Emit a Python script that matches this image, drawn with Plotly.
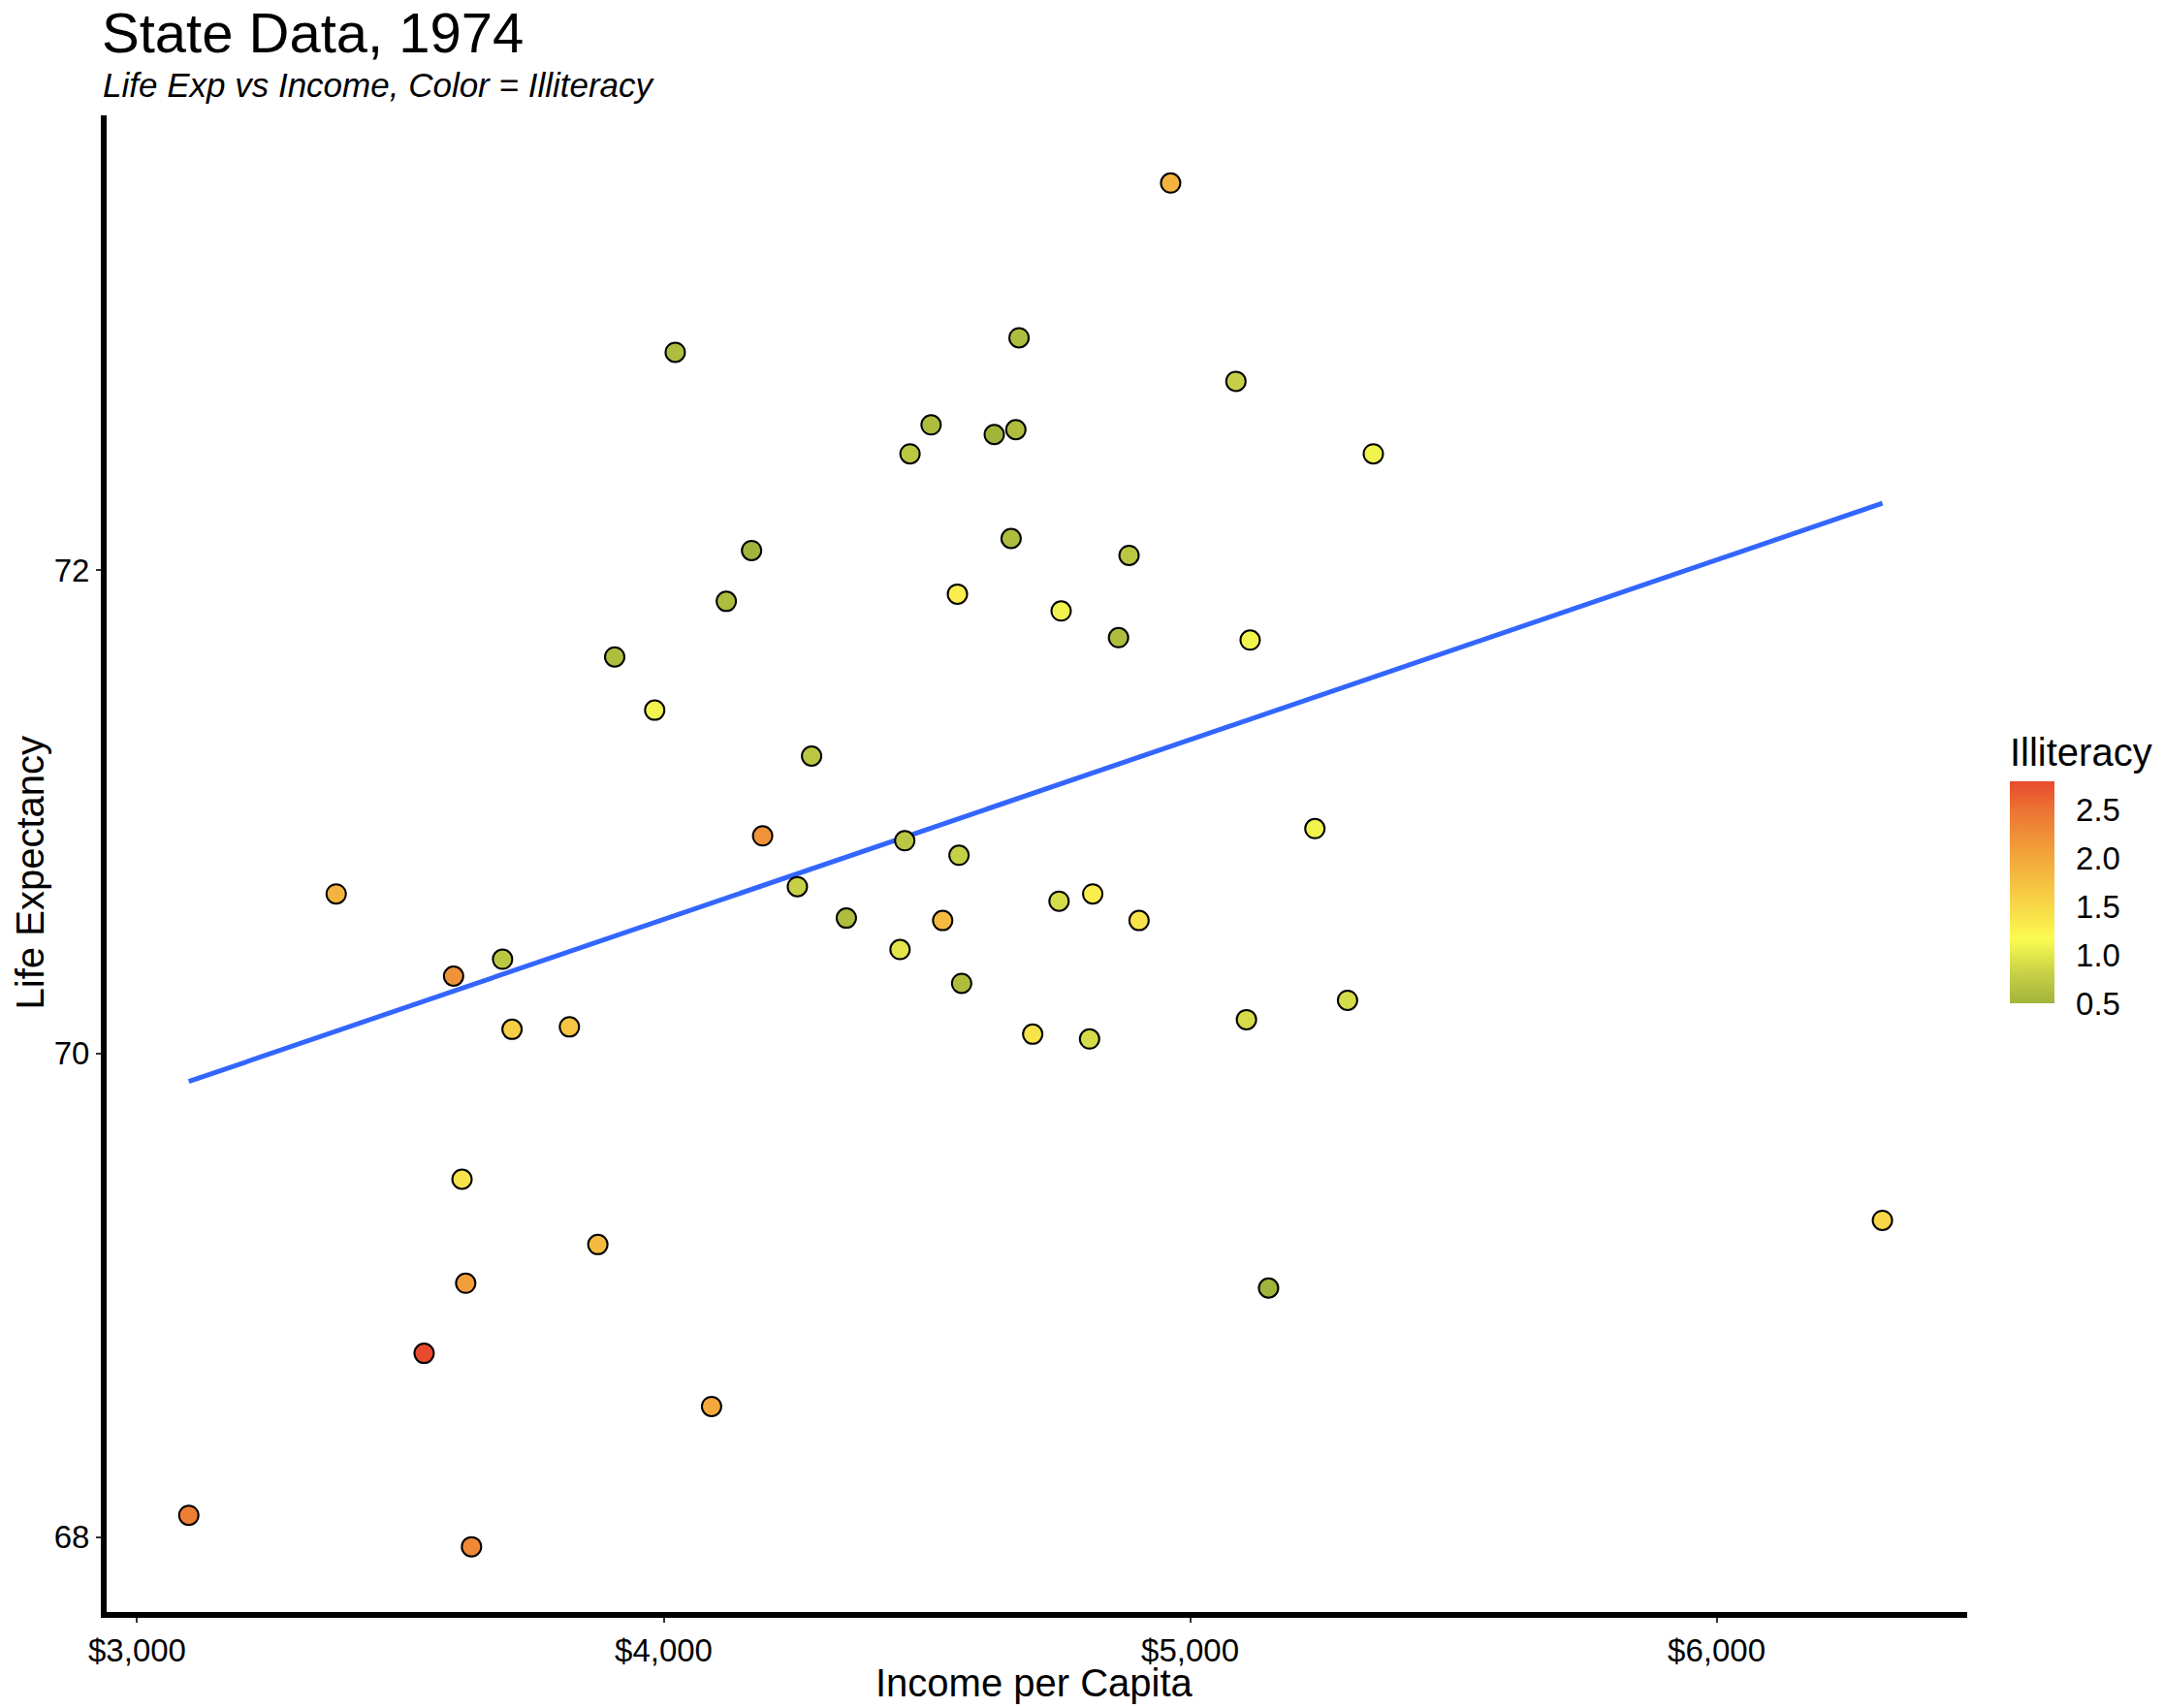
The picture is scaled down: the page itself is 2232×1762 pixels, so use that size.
import numpy as np
import plotly.graph_objects as go

states = ["Alabama","Alaska","Arizona","Arkansas","California","Colorado","Connecticut","Delaware",
          "Florida","Georgia","Hawaii","Idaho","Illinois","Indiana","Iowa","Kansas","Kentucky",
          "Louisiana","Maine","Maryland","Massachusetts","Michigan","Minnesota","Mississippi",
          "Missouri","Montana","Nebraska","Nevada","New Hampshire","New Jersey","New Mexico",
          "New York","North Carolina","North Dakota","Ohio","Oklahoma","Oregon","Pennsylvania",
          "Rhode Island","South Carolina","South Dakota","Tennessee","Texas","Utah","Vermont",
          "Virginia","Washington","West Virginia","Wisconsin","Wyoming"]
income = [3624, 6315, 4530, 3378, 5114, 4884, 5348, 4809, 4815, 4091, 4963, 4119, 5107, 4458,
          4628, 4669, 3712, 3545, 3694, 5299, 4755, 4751, 4675, 3098, 4254, 4347, 4508, 5149,
          4281, 5237, 3601, 4903, 3875, 5087, 4561, 3983, 4660, 4449, 4558, 3635, 4167, 3821,
          4188, 4022, 3907, 4701, 4864, 3617, 4468, 4566]
illiteracy = [2.1, 1.5, 1.8, 1.9, 1.1, 0.7, 1.1, 0.9, 1.3, 2.0, 1.9, 0.6, 0.9, 0.7, 0.5, 0.6,
              1.6, 2.8, 0.7, 0.9, 1.1, 0.9, 0.6, 2.4, 0.8, 0.6, 0.6, 0.5, 0.7, 1.1, 2.2, 1.4,
              1.8, 0.8, 0.8, 1.1, 0.6, 1.0, 1.3, 2.3, 0.5, 1.7, 2.2, 0.6, 0.6, 1.4, 0.6, 1.4,
              0.7, 0.6]
life_exp = [69.05, 69.31, 70.55, 70.66, 71.71, 72.06, 72.48, 70.06, 70.66, 68.54, 73.60, 71.87,
            70.14, 70.88, 72.56, 72.58, 70.10, 68.76, 70.39, 70.22, 71.83, 70.63, 72.96, 68.09,
            70.69, 70.56, 72.60, 69.03, 71.23, 70.93, 70.32, 70.55, 69.21, 72.78, 70.82, 71.42,
            72.13, 70.43, 71.90, 67.96, 72.08, 70.11, 70.90, 72.90, 71.64, 70.08, 71.72, 69.48,
            72.48, 70.29]

x_ticks = [3000, 4000, 5000, 6000]
y_ticks = [68, 70, 72]
cbar_ticks = [0.5, 1.0, 1.5, 2.0, 2.5]

FONT = "Liberation Sans, Arial, Helvetica, sans-serif"

cmin, cmax = 0.5, 2.8
def pos(v):
    return (v - cmin) / (cmax - cmin)

colorscale = [
    [0.0, "#a3b43c"],
    [pos(0.8), "#c6d046"],
    [pos(1.17), "#fbfb50"],
    [pos(1.5), "#f8d848"],
    [pos(2.0), "#f3a83b"],
    [pos(2.5), "#ec7434"],
    [1.0, "#e84a2d"],
]

# linear regression line
slope, intercept = np.polyfit(income, life_exp, 1)
fit_x = [min(income), max(income)]
fit_y = [intercept + slope * v for v in fit_x]

fig = go.Figure()
fig.add_trace(go.Scatter(
    x=fit_x, y=fit_y, mode="lines",
    line=dict(color="#3366FF", width=5),
    hoverinfo="skip", showlegend=False,
))
fig.add_trace(go.Scatter(
    x=income, y=life_exp, mode="markers", text=states,
    marker=dict(
        size=20, color=illiteracy, colorscale=colorscale, cmin=cmin, cmax=cmax,
        line=dict(color="black", width=2),
        showscale=True,
        colorbar=dict(
            title=dict(text="Illiteracy", side="top", font=dict(size=40, color="black", family=FONT)),
            tickvals=cbar_ticks, ticktext=[f"{v:.1f}" for v in cbar_ticks],
            tickfont=dict(size=33, color="black", family=FONT),
            ticks="outside", ticklen=16, tickcolor="rgba(0,0,0,0)", tickwidth=1,
            thickness=46, thicknessmode="pixels",
            len=278, lenmode="pixels",
            x=1.0229, xanchor="left", y=0.4067, yanchor="bottom",
            xpad=0, ypad=0, outlinewidth=0,
        ),
    ),
    showlegend=False,
))

fig.update_layout(
    width=2232, height=1762,
    margin=dict(l=110, r=200, t=119, b=99),
    paper_bgcolor="white", plot_bgcolor="white",
    font=dict(family=FONT, color="black"),
    xaxis=dict(
        range=[2942, 6476], tickvals=x_ticks, tickformat="$,.0f",
        showgrid=False, zeroline=False,
        showline=True, linecolor="black", linewidth=6,
        ticks="outside", ticklen=5, tickwidth=2, tickcolor="#333333",
        tickfont=dict(size=33, color="black", family=FONT),
    ),
    yaxis=dict(
        range=[67.69, 73.88], tickvals=y_ticks,
        showgrid=False, zeroline=False,
        showline=True, linecolor="black", linewidth=6,
        ticks="outside", ticklen=5, tickwidth=2, tickcolor="#333333",
        tickfont=dict(size=33, color="black", family=FONT),
    ),
    annotations=[
        dict(text="State Data, 1974", xref="paper", yref="paper", x=-0.003, y=1.0551,
             xanchor="left", yanchor="middle", showarrow=False, borderpad=0,
             font=dict(size=58, color="black", family=FONT)),
        dict(text="<i>Life Exp vs Income, Color = Illiteracy</i>", xref="paper", yref="paper",
             x=-0.003, y=1.0207, xanchor="left", yanchor="middle", showarrow=False,
             font=dict(size=35, color="black", family=FONT)),
        dict(text="Income per Capita", xref="paper", yref="paper", x=0.4985, y=-0.047,
             xanchor="center", yanchor="middle", showarrow=False, borderpad=0,
             font=dict(size=40, color="black", family=FONT)),
        dict(text="Life Expectancy", xref="paper", yref="paper", x=-0.0411, y=0.494,
             xanchor="center", yanchor="middle", showarrow=False, textangle=-90,
             font=dict(size=40, color="black", family=FONT)),
    ],
)

fig.write_html("out.html")
